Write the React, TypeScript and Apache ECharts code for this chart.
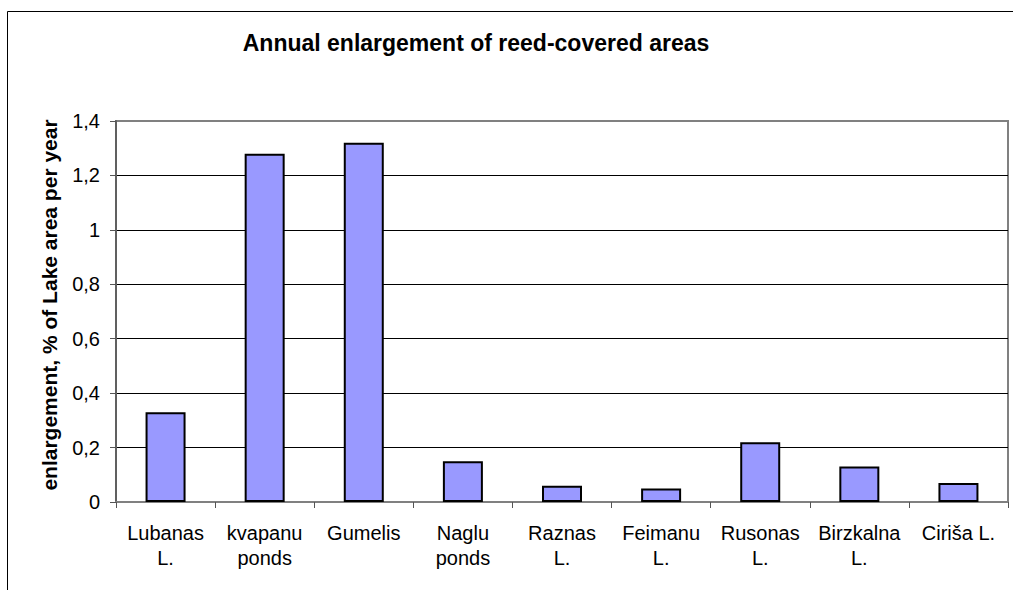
import React, { useEffect, useRef } from "react";
import * as echarts from "echarts";

const categories = [
  "Lubanas\nL.",
  "kvapanu\nponds",
  "Gumelis",
  "Naglu\nponds",
  "Raznas\nL.",
  "Feimanu\nL.",
  "Rusonas\nL.",
  "Birzkalna\nL.",
  "Ciriša L.",
];
const values = [0.33, 1.28, 1.32, 0.15, 0.06, 0.05, 0.22, 0.13, 0.07];
const titleText = "Annual enlargement of reed-covered areas";
const yAxisName = "enlargement, % of Lake area per year";

const FONT = "'Liberation Sans', Arial, Helvetica, sans-serif";

export default function App() {
  const ref = useRef<HTMLDivElement>(null);
  useEffect(() => {
    if (!ref.current) return;
    const chart = echarts.init(ref.current, null, { renderer: "svg" });
    chart.setOption({
      animation: false,
      backgroundColor: "#ffffff",
      grid: {
        left: 116,
        right: 5,
        top: 121,
        bottom: 88,
        show: true,
        borderColor: "#808080",
        borderWidth: 2,
        containLabel: false,
      },
      xAxis: {
        type: "category",
        data: categories,
        axisLine: { show: true, lineStyle: { color: "#808080", width: 2 } },
        axisTick: { show: true, length: 6, lineStyle: { color: "#555555", width: 1 } },
        axisLabel: {
          interval: 0,
          margin: 18,
          fontSize: 20,
          lineHeight: 25,
          color: "#000000",
          fontFamily: FONT,
        },
      },
      yAxis: {
        type: "value",
        min: 0,
        max: 1.4,
        interval: 0.2,
        axisLine: { show: true, lineStyle: { color: "#606060", width: 2 } },
        axisTick: { show: true, length: 6, lineStyle: { color: "#555555", width: 1 } },
        axisLabel: {
          margin: 16,
          fontSize: 20,
          color: "#000000",
          fontFamily: FONT,
          formatter: (v: number) => String(Number(v.toFixed(1))).replace(".", ","),
        },
        splitLine: {
          show: true,
          lineStyle: {
            color: ["#000000", "#000000", "#000000", "#000000", "#000000", "#000000", "#000000", "#808080"],
            width: 1,
          },
        },
      },
      series: [
        {
          type: "bar",
          data: values,
          barWidth: 40,
          itemStyle: { color: "#9999FF", borderColor: "#000000", borderWidth: 2 },
        },
      ],
      graphic: [
        {
          type: "rect",
          z: -10,
          shape: { x: 7.5, y: 11.5, width: 1200, height: 800 },
          style: { fill: "none", stroke: "#000000", lineWidth: 1 },
          silent: true,
        },
        {
          type: "text",
          x: 476,
          y: 43,
          style: {
            text: titleText,
            font: `bold 23px ${FONT}`,
            fill: "#000000",
            textAlign: "center",
            textVerticalAlign: "middle",
          },
        },
        {
          type: "text",
          x: 49,
          y: 305,
          rotation: Math.PI / 2,
          style: {
            text: yAxisName,
            font: `bold 21px ${FONT}`,
            fill: "#000000",
            textAlign: "center",
            textVerticalAlign: "middle",
          },
        },
      ],
    });
    return () => chart.dispose();
  }, []);
  return (
    <div
      ref={ref}
      style={{ position: "fixed", left: 0, top: 0, width: 1013, height: 590, background: "#fff" }}
    />
  );
}
